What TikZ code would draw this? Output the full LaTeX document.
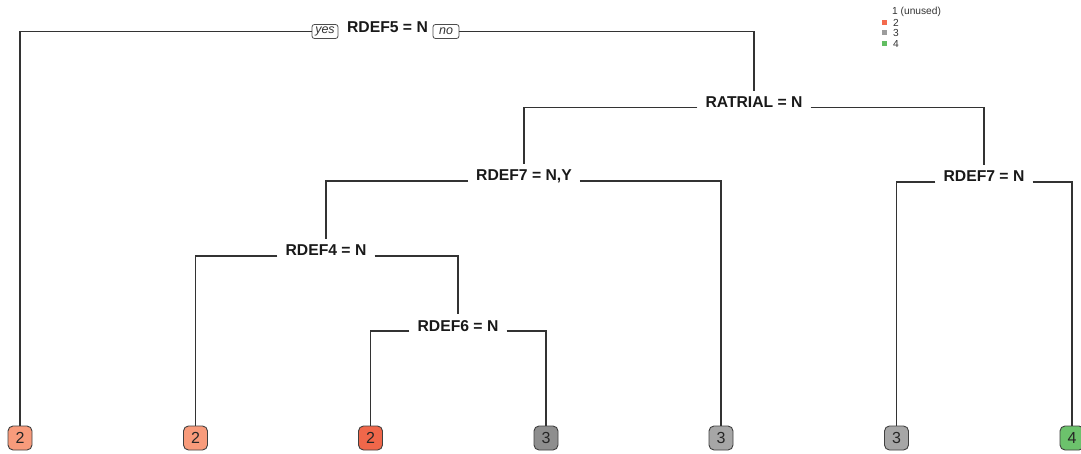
\documentclass[tikz,border=0pt]{standalone}
\usepackage{fontspec}
\setmainfont{Liberation Sans}
\definecolor{leafA}{HTML}{F89B7B}
\definecolor{leafB}{HTML}{F0674A}
\definecolor{greyA}{HTML}{A6A6A6}
\definecolor{greyB}{HTML}{8E8E8E}
\definecolor{leafG}{HTML}{6CC26C}
\definecolor{lg2c}{HTML}{F46A4E}
\definecolor{lg3c}{HTML}{9C9C9C}
\definecolor{lg4c}{HTML}{62BE62}
\begin{document}
\begin{tikzpicture}[x=1pt,y=-1pt,
 split/.style={font=\fontsize{15.7}{18}\selectfont\bfseries, inner xsep=8pt, inner ysep=5.5pt, anchor=base, text=black!90},
 leaf/.style={draw=black!75, line width=0.9pt, rounded corners=5pt, minimum width=24pt, minimum height=24pt, inner sep=0pt, font=\fontsize{16}{16}\selectfont, text=black!85},
 edge/.style={draw=black!80, line width=1.5pt},
 yn/.style={draw=black!70, line width=0.8pt, rounded corners=2.5pt, minimum width=26pt, minimum height=14pt, inner sep=1pt, font=\fontsize{12.5}{12.5}\selectfont\itshape, text=black!80},
 lg/.style={font=\fontsize{10.2}{11}\selectfont, anchor=west, inner sep=0pt, text=black!80},
 sq/.style={minimum size=5pt, inner sep=0pt}]
\useasboundingbox[fill=white] (0,0) rectangle (1081,454);

% split nodes
\node[split] (root) at (387.5,33) {RDEF5 = N};
\node[yn] (yes) at (325,31.5) {yes};
\node[yn] (no) at (446,31.5) {no};
\node[split] (ratrial) at (754,107.5) {RATRIAL = N};
\node[split] (r7a) at (524,181) {RDEF7 = N,Y};
\node[split] (r7b) at (984,182) {RDEF7 = N};
\node[split] (r4) at (326,256) {RDEF4 = N};
\node[split] (r6) at (458,331) {RDEF6 = N};

% leaves
\node[leaf, fill=leafA] (l1) at (20,438) {2};
\node[leaf, fill=leafA] (l2) at (195.5,438) {2};
\node[leaf, fill=leafB] (l3) at (370.5,438) {2};
\node[leaf, fill=greyB] (l4) at (546,438) {3};
\node[leaf, fill=greyA] (l5) at (721,438) {3};
\node[leaf, fill=greyA] (l6) at (896.5,438) {3};
\node[leaf, fill=leafG] (l7) at (1072,438) {4};

% connectors
\draw[edge] (yes.west) -| (l1.north);
\draw[edge] (no.east) -| (ratrial.north);
\draw[edge] (ratrial.base west) -| (r7a.north);
\draw[edge] (ratrial.base east) -| (r7b.north);
\draw[edge] (r7a.base west) -| (r4.north);
\draw[edge] (r7a.base east) -| (l5.north);
\draw[edge] (r4.base west) -| (l2.north);
\draw[edge] (r4.base east) -| (r6.north);
\draw[edge] (r6.base west) -| (l3.north);
\draw[edge] (r6.base east) -| (l4.north);
\draw[edge] (r7b.base west) -| (l6.north);
\draw[edge] (r7b.base east) -| (l7.north);

% legend
\node[lg] (lg1) at (892,12) {1 (unused)};
\node[sq, fill=lg2c] (s2) at (884,22.5) {};
\node[lg] (lg2) at (893,22.5) {2};
\node[sq, fill=lg3c] (s3) at (884,33) {};
\node[lg] (lg3) at (893,33) {3};
\node[sq, fill=lg4c] (s4) at (884,43.5) {};
\node[lg] (lg4) at (893,43.5) {4};
\end{tikzpicture}
\end{document}
